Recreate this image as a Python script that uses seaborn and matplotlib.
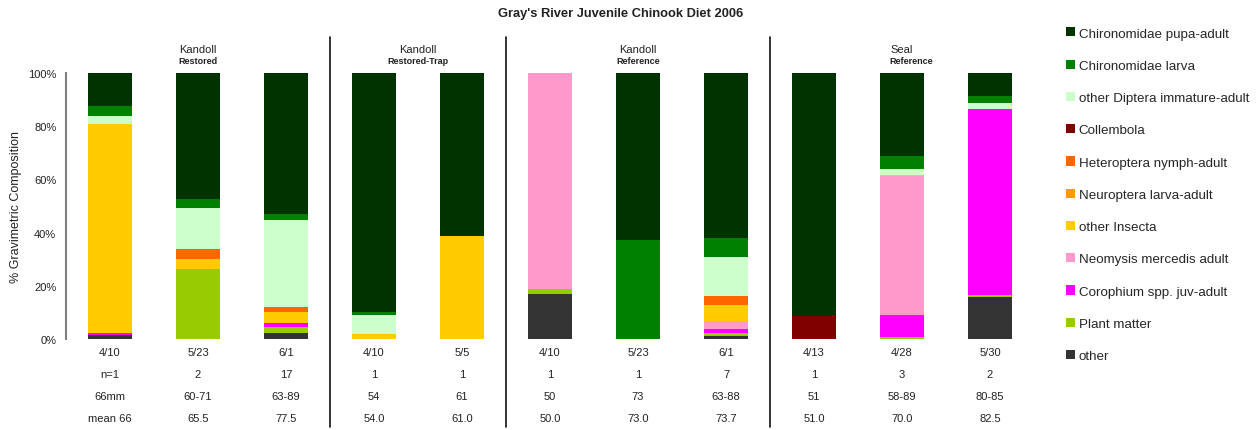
import numpy as np
import pandas as pd
import seaborn as sns
import matplotlib.pyplot as plt
from matplotlib.patches import Patch
import matplotlib.transforms as mtransforms

# sample info under each bar
dates = ["4/10", "5/23", "6/1", "4/10", "5/5", "4/10", "5/23", "6/1", "4/13", "4/28", "5/30"]
n_fish = ["n=1", "2", "17", "1", "1", "1", "1", "7", "1", "3", "2"]
lengths = ["66mm", "60-71", "63-89", "54", "61", "50", "73", "63-88", "51", "58-89", "80-85"]
means = ["mean 66", "65.5", "77.5", "54.0", "61.0", "50.0", "73.0", "73.7", "51.0", "70.0", "82.5"]

sites = ["Kandoll", "Kandoll", "Kandoll", "Seal"]
site_types = ["Restored", "Restored-Trap", "Reference", "Reference"]
group_sizes = [3, 2, 3, 3]

# % gravimetric composition, stacking order bottom -> top
other = [1.5, 0, 2.3, 0, 0, 16.9, 0, 1.1, 0, 0, 15.8]
plant = [0, 26.3, 2.2, 0, 0, 1.9, 0, 1.2, 0, 0.9, 0.7]
corophium = [0.9, 0, 1.5, 0, 0, 0, 0, 1.5, 0, 8.1, 70.0]
neomysis = [0, 0, 0, 0, 0, 81.2, 0, 3.0, 0, 52.3, 0]
insecta = [78.4, 3.8, 4.2, 1.9, 38.7, 0, 0, 6.0, 0, 0.5, 0]
neuroptera = [0, 0, 0, 0, 0, 0, 0, 0, 0, 0, 0]
heteroptera = [0, 3.7, 1.8, 0, 0, 0, 0, 3.4, 0, 0, 0]
collembola = [0, 0, 0, 0, 0, 0, 0, 0, 8.6, 0, 0]
diptera = [3.0, 15.4, 32.7, 7.1, 0, 0, 0, 14.6, 0, 2.1, 2.2]
larva = [3.8, 3.4, 2.3, 1.2, 0, 0, 37.2, 7.2, 0, 4.9, 2.7]
pupa = [12.4, 47.4, 53.0, 89.8, 61.3, 0, 62.8, 62.0, 91.4, 31.2, 8.6]

categories = ["other", "Plant matter", "Corophium spp. juv-adult", "Neomysis mercedis adult",
              "other Insecta", "Neuroptera larva-adult", "Heteroptera nymph-adult", "Collembola",
              "other Diptera immature-adult", "Chironomidae larva", "Chironomidae pupa-adult"]
colors = ["#333333", "#99CC00", "#FF00FF", "#FF99CC", "#FFCC00", "#FF9900", "#FF6600",
          "#800000", "#CCFFCC", "#008000", "#003300"]
series = [other, plant, corophium, neomysis, insecta, neuroptera, heteroptera,
          collembola, diptera, larva, pupa]

rows = []
for cat, vals in zip(categories, series):
    for i, v in enumerate(vals):
        rows.append({"bar": i, "category": cat, "value": v})
df = pd.DataFrame(rows)
df["category"] = pd.Categorical(df["category"], categories=categories, ordered=True)
df = df.sort_values(["bar", "category"])
df["cum"] = df.groupby("bar")["value"].cumsum()

sns.set_style("white")
plt.rcParams["font.family"] = ["Liberation Sans", "DejaVu Sans"]

fig = plt.figure(figsize=(12.57, 4.31), dpi=100)
ax = fig.add_axes([0.0525, 0.2111, 0.7701, 0.6172])

# overlapping cumulative bars, top category first
for cat, col in reversed(list(zip(categories, colors))):
    sub = df[df["category"] == cat]
    sns.barplot(x=sub["bar"], y=sub["cum"], color=col, saturation=1, width=0.5,
                order=list(range(11)), linewidth=0, ax=ax)

ax.set_xlim(-0.5, 10.5)
ax.set_ylim(0, 100)
ax.set_yticks([0, 20, 40, 60, 80, 100])
ax.set_yticklabels([f"{t}%" for t in [0, 20, 40, 60, 80, 100]], fontsize=8, color="#222222")
ax.tick_params(axis="y", length=0, pad=7)
ax.set_xticks([])
ax.set_xlabel("")
ax.set_ylabel("% Gravimetric Composition", fontsize=9, color="#222222", labelpad=4)
for s in ["top", "right", "bottom"]:
    ax.spines[s].set_visible(False)
ax.spines["left"].set_color("#808080")
ax.spines["left"].set_linewidth(1.5)

# separators between sites
start = 0
for size in group_sizes[:-1]:
    start += size
    ax.axvline(start - 0.5, ymin=-0.33, ymax=1.135, color="#111111", lw=1.2, clip_on=False)

# site headers
trans = mtransforms.blended_transform_factory(ax.transData, fig.transFigure)
start = 0
for site, kind, size in zip(sites, site_types, group_sizes):
    xc = start + (size - 1) / 2
    ax.text(xc, 1 - 50 / 431, site, transform=trans, ha="center", va="center",
            fontsize=8, color="#222222")
    ax.text(xc + (0.1 if site == "Seal" else 0), 1 - 62 / 431, kind, transform=trans,
            ha="center", va="center", fontsize=6.5, fontweight="bold", color="#222222")
    start += size

# table rows below the bars
for row, ypix in zip([dates, n_fish, lengths, means], [353, 375, 397, 419]):
    for i, label in enumerate(row):
        ax.text(i, 1 - ypix / 431, label, transform=trans, ha="center", va="center",
                fontsize=8, color="#222222")

fig.text(0.494, 1 - 14 / 431, "Gray's River Juvenile Chinook Diet 2006", ha="center",
         va="center", fontsize=9.3, fontweight="bold", color="#222222")

handles = [Patch(facecolor=c, edgecolor="none", label=l)
           for l, c in reversed(list(zip(categories, colors)))]
fig.legend(handles=handles, loc="upper left", bbox_to_anchor=(1061 / 1257, 1 - 23 / 431),
           frameon=False, fontsize=9.6, handlelength=0.68, handleheight=0.68,
           handletextpad=0.25, labelspacing=1.5, borderaxespad=0)

plt.savefig("out.png", dpi=100)
